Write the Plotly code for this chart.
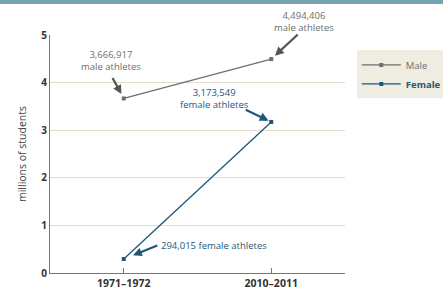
import plotly.graph_objects as go

categories = ["1971–1972", "2010–2011"]
male = [3.666917, 4.494406]
female = [0.294015, 3.173549]
male_labels = ["3,666,917<br>male athletes", "4,494,406<br>male athletes"]
female_labels = ["294,015 female athletes", "3,173,549<br>female athletes"]
y_ticks = [0, 1, 2, 3, 4, 5]

MALE_C = "#6e6e6e"
FEM_C = "#1f5778"
FONT = "Open Sans"

x = [0, 1]
fig = go.Figure()
fig.add_trace(go.Scatter(x=x, y=male, name="Male",
                         mode="lines+markers",
                         line=dict(color=MALE_C, width=1.3),
                         marker=dict(symbol="square", size=4, color=MALE_C)))
fig.add_trace(go.Scatter(x=x, y=female, name=f"<span style='color:{FEM_C};font-weight:bold'>Female</span>",
                         mode="lines+markers",
                         line=dict(color=FEM_C, width=1.3),
                         marker=dict(symbol="square", size=4, color=FEM_C)))

ann = []
def arrow(xv, yv, ax, ay, col, standoff):
    ann.append(dict(x=xv, y=yv, xref="x", yref="y", ax=ax, ay=ay, text="",
                    showarrow=True, arrowhead=2, arrowsize=0.8, arrowwidth=2.2,
                    arrowcolor=col, standoff=standoff))
def label(xv, yv, xs, ys, txt, col, xanchor="center"):
    ann.append(dict(x=xv, y=yv, xref="x", yref="y", xshift=xs, yshift=ys, text=txt,
                    showarrow=False, xanchor=xanchor, yanchor="middle",
                    font=dict(family=FONT, size=9.5, color=col), align="center"))

# male 1971
arrow(x[0], male[0], -12, -22, "#555555", 5)
label(x[0], male[0], -13, 38, male_labels[0], MALE_C)
# male 2010
arrow(x[1], male[1], 28, -26, "#555555", 5)
label(x[1], male[1], 33, 38, male_labels[1], MALE_C)
# female 2010
arrow(x[1], female[1], -27, -13, FEM_C, 3)
label(x[1], female[1], -57, 23, female_labels[1], FEM_C)
# female 1971
arrow(x[0], female[0], 35, -14, FEM_C, 10)
label(x[0], female[0], 35, 14, female_labels[0], FEM_C, xanchor="left")

fig.update_layout(
    width=443, height=292,
    margin=dict(l=50, r=98, t=35, b=19, autoexpand=False),
    paper_bgcolor="white", plot_bgcolor="white",
    font=dict(family=FONT, size=9, color="#333333"),
    annotations=ann,
    showlegend=True,
    legend=dict(x=1.04, y=0.935, xanchor="left", yanchor="top",
                bgcolor="#efece2", borderwidth=0,
                font=dict(family=FONT, size=9.5, color=MALE_C),
                itemwidth=39, tracegroupgap=0),
    shapes=[
        dict(type="rect", xref="paper", yref="paper", x0=-0.2, x1=1.4,
             y0=(273 - 4) / 238, y1=(273 + 2) / 238, fillcolor="#76a5b1",
             line=dict(width=0), layer="above"),
        dict(type="rect", xref="paper", yref="paper", x0=1.04 + 2 / 295, x1=1.40,
             y0=(273 - 95) / 238, y1=(273 - 52) / 238, fillcolor="#9a9a90",
             line=dict(width=0), layer="below"),
    ],
)
fig.update_xaxes(range=[-0.5, 1.5], tickvals=x, ticktext=categories,
                 showgrid=False, zeroline=False, showline=True, linecolor="#777777",
                 linewidth=1, ticks="inside", ticklen=5, tickcolor="#777777",
                 tickfont=dict(family=FONT, size=10.5, color="#333333", weight="bold"),
                 automargin=False, fixedrange=True)
fig.update_yaxes(range=[0, 5], tickvals=y_ticks, showgrid=True, gridcolor="#e6dccb",
                 gridwidth=1, zeroline=False, showline=True, linecolor="#777777",
                 linewidth=1, ticks="", tickfont=dict(family=FONT, size=10, color="#333333", weight="bold"),
                 title=dict(text="millions of students", font=dict(family=FONT, size=10.5, color="#444444"),
                            standoff=12),
                 automargin=False, fixedrange=True)
fig.write_html("out.html", config={"displayModeBar": False},
               post_script="document.body.style.margin='0';document.body.style.overflow='hidden';")
